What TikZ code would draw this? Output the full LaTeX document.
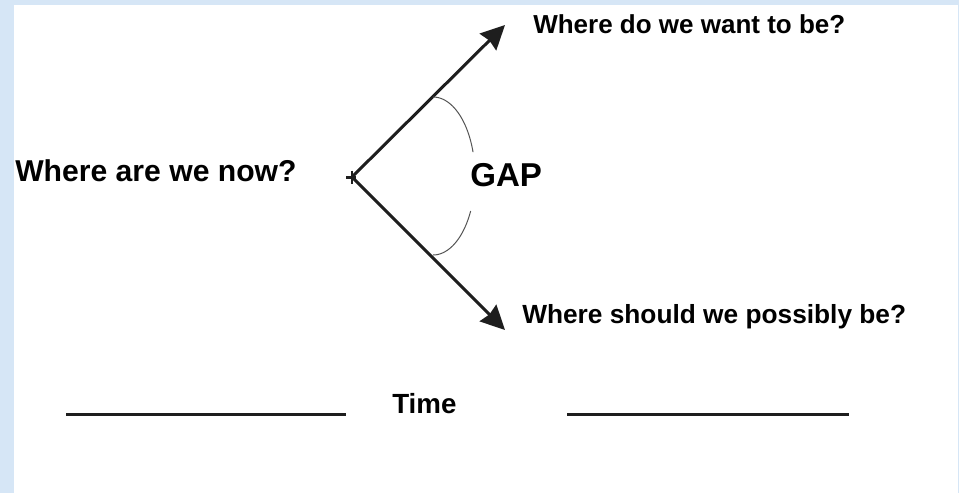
\documentclass[tikz,border=0pt]{standalone}
\usepackage{fontspec}
\setmainfont{Liberation Sans}
\usetikzlibrary{arrows.meta}
\definecolor{bgblue}{HTML}{D6E6F6}
\definecolor{ink}{HTML}{1E1E1E}
\definecolor{arcgray}{HTML}{555555}
\begin{document}
\begin{tikzpicture}[x=0.75pt,y=-0.75pt,
  lbl/.style={anchor=base west, inner sep=0pt, text=black},
  arr/.style={line width=2.25pt, draw=ink, -{Stealth[length=18pt,width=17.5pt,inset=1.5pt]}},
  timeline/.style={line width=2.25pt, draw=ink},
  crossmark/.style={line width=1.8pt, draw=ink},
  gaparc/.style={line width=0.75pt, draw=arcgray}]
\fill[bgblue] (0,0) rectangle (959,493);
\fill[white] (14,5) rectangle (958,493);
\useasboundingbox (0,0) rectangle (959,493);

\node[lbl, font=\fontsize{22.6pt}{26pt}\selectfont\bfseries] (now) at (15,181) {Where are we now?};
\node[lbl, font=\fontsize{19.5pt}{23pt}\selectfont\bfseries] (want) at (533,33) {Where do we want to be?};
\node[lbl, font=\fontsize{19.7pt}{23pt}\selectfont\bfseries] (should) at (522,323) {Where should we possibly be?};
\node[lbl, font=\fontsize{24.8pt}{28pt}\selectfont\bfseries] (gap) at (470,186) {GAP};
\node[lbl, font=\fontsize{20.8pt}{24pt}\selectfont\bfseries] (time) at (392,413) {Time};

\coordinate (o) at (352,177);
\coordinate (up) at (505,25);
\coordinate (down) at (505,330);
\draw[arr] (o) -- (up);
\draw[arr] (o) -- (down);
\draw[crossmark] ([shift={(-6,0.5)}]o) -- ([shift={(3.5,0.5)}]o);
\draw[crossmark] ([shift={(0,-6.5)}]o) -- ([shift={(0,6.5)}]o);

\draw[gaparc] plot[domain=-90:-17.6, samples=40, smooth] ({433+42*cos(\x)},{176+79*sin(\x)});
\draw[gaparc] plot[domain=26.3:90, samples=40, smooth] ({433+42*cos(\x)},{176+79*sin(\x)});

\coordinate (l1) at (66,414);
\coordinate (l2) at (346,414);
\coordinate (r1) at (567,414);
\coordinate (r2) at (849,414);
\draw[timeline] (l1) -- (l2);
\draw[timeline] (r1) -- (r2);
\end{tikzpicture}
\end{document}
